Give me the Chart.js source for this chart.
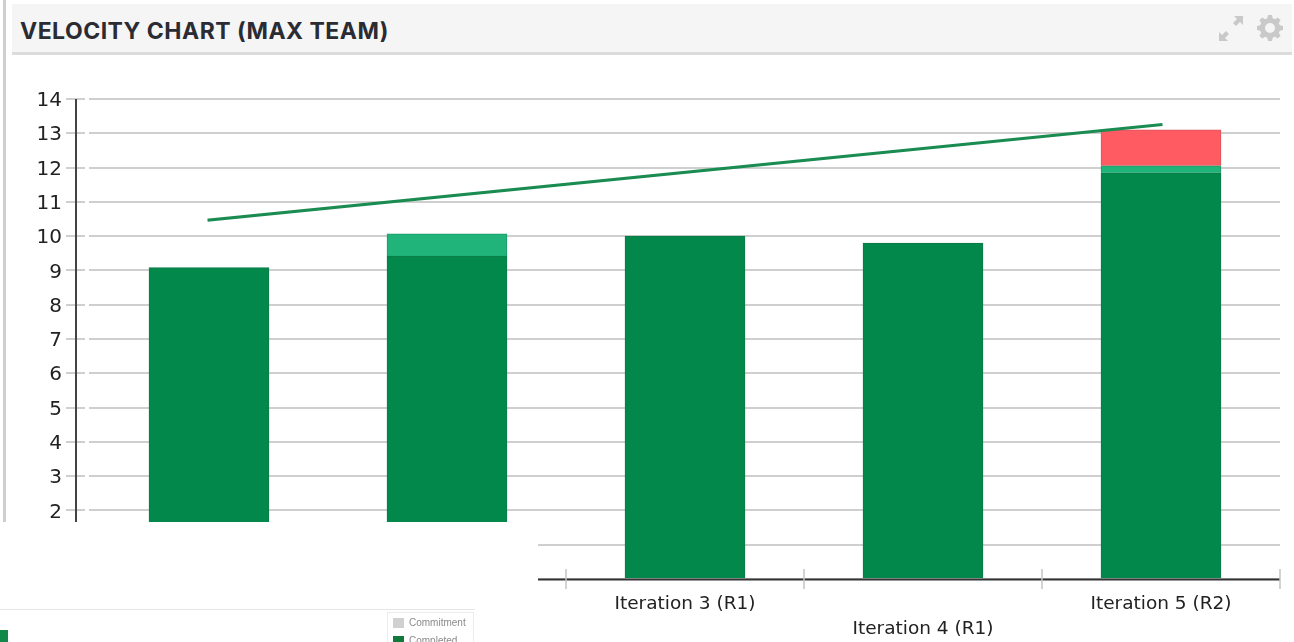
<!DOCTYPE html>
<html><head><meta charset="utf-8"><title>Velocity Chart</title>
<script src="https://cdn.jsdelivr.net/npm/chart.js@4"></script>
<style>
html,body{margin:0;padding:0;background:#fff;overflow:hidden}
#wrap{position:relative;width:1294px;height:642px}
canvas{position:absolute;left:0;top:0}
.abs{position:absolute}
#leftbar{left:3px;top:0;width:3px;height:522px;background:#cfcfcf}
#head{left:12px;top:4px;width:1280px;height:48px;background:#f5f5f5;border-bottom:3px solid #dcdcdc}
#title{left:8px;top:13px;font:700 23px Inter,sans-serif;letter-spacing:.48px;color:#2b2b33;white-space:nowrap}
#patch{left:0;top:522px;width:538px;height:120px;background:#fff}
#rule{left:0;top:609px;width:475px;height:1px;background:#e6e6e6}
#legbox{left:387px;top:612px;width:87px;height:40px;border:1px solid #ececec;box-sizing:border-box;overflow:hidden;filter:blur(.5px)}
.lg{position:absolute;left:21px;font:10px "Liberation Sans",sans-serif;color:#8a8a8a;white-space:nowrap}
.sw{position:absolute;left:5px;width:11px;height:10px}
#stub{left:0;top:630px;width:8px;height:12px;background:#0f8a48;filter:blur(.5px)}
</style></head><body>
<div id="wrap">
<canvas id="c" width="1294" height="642"></canvas>
<div class="abs" id="leftbar"></div>
<div class="abs" id="head"><div class="abs" id="title">VELOCITY CHART (MAX TEAM)</div>
<svg class="abs" style="left:1205px;top:10px" width="66" height="30" viewBox="0 0 66 30">
<g fill="#c9c9c9"><path d="M17 2h9v9l-3-3-4 4-3-3 4-4z"/><path d="M2 27v-9l3 3 4-4 3 3-4 4 3 3z"/>
<path fill-rule="evenodd" d="M51 1h4l.7 3.2 2.3 1 2.8-1.8 2.8 2.8-1.8 2.8 1 2.3 3.2.7v4l-3.2.7-1 2.3 1.8 2.8-2.8 2.8-2.8-1.8-2.3 1L55 27h-4l-.7-3.2-2.3-1-2.8 1.8-2.8-2.8 1.8-2.8-1-2.3L40 16v-4l3.2-.7 1-2.3-1.8-2.8 2.8-2.8L48 5.2l2.3-1zM53 9a5 5 0 1 0 0 10 5 5 0 0 0 0-10z"/></g></svg>
</div>
<div class="abs" id="patch"></div>
<div class="abs" id="rule"></div>
<div class="abs" id="stub"></div>
<div class="abs" id="legbox">
<div class="sw" style="top:5px;background:#d0d0d0"></div><div class="lg" style="top:4px">Commitment</div>
<div class="sw" style="top:23px;background:#0f7a3c"></div><div class="lg" style="top:22px">Completed</div>
</div>
</div>
<script>
const categories = [["Iteration 1 (R1)"], ["", "Iteration 2 (R1)"], ["Iteration 3 (R1)"], ["", "Iteration 4 (R1)"], ["Iteration 5 (R2)"]];
const completed = [9.08, 9.42, 10.0, 9.8, 11.85];
const extra = [null, 0.65, null, null, 0.2];
const overrun = [null, null, null, null, 1.05];
const trend = [10.47, null, null, null, 13.25];
const yMin = 0, yMax = 14, yStep = 1;

const axisDecor = {
  id: 'axisDecor',
  beforeDatasetsDraw(chart) {
    const {ctx, chartArea: a, scales: {x, y}} = chart;
    ctx.save();
    // gap between the tick stub and the gridline
    ctx.fillStyle = '#fff';
    ctx.fillRect(a.left - 5, a.top - 2, 4, a.bottom - a.top + 2);
    // y axis line, set off to the left of the plot
    ctx.strokeStyle = '#444';
    ctx.lineWidth = 2;
    ctx.beginPath();
    ctx.moveTo(a.left - 14, a.top);
    ctx.lineTo(a.left - 14, a.bottom + 1);
    ctx.stroke();
    // x axis line
    ctx.strokeStyle = '#333';
    ctx.beginPath();
    ctx.moveTo(a.left - 14, a.bottom + 0.5);
    ctx.lineTo(a.right, a.bottom + 0.5);
    ctx.stroke();
    // x ticks at category boundaries, crossing the axis
    ctx.strokeStyle = '#c4c4c4';
    ctx.lineWidth = 1.5;
    const step = (a.right - a.left) / x.ticks.length;
    for (let i = 0; i <= x.ticks.length; i++) {
      const px = a.left + step * i;
      ctx.beginPath();
      ctx.moveTo(px, a.bottom - 10);
      ctx.lineTo(px, a.bottom + 10);
      ctx.stroke();
    }
    ctx.restore();
  }
};

const barBase = {type: 'bar', stack: 's', barThickness: 120, borderWidth: 1, order: 2};
new Chart(document.getElementById('c'), {
  data: {
    labels: categories,
    datasets: [
      {...barBase, label: 'Completed', data: completed, backgroundColor: '#03884c', borderColor: '#0f7a47'},
      {...barBase, label: 'Extra', data: extra, backgroundColor: '#20b37a', borderColor: '#1f9a68'},
      {...barBase, label: 'Overrun', data: overrun, backgroundColor: '#fe5b63', borderColor: '#d9545a'},
      {type: 'line', label: 'Trend', data: trend, spanGaps: true, borderColor: '#1a8c52', borderWidth: 3, borderCapStyle: 'square', pointRadius: 0, tension: 0, order: 1}
    ]
  },
  options: {
    responsive: false, animation: false,
    layout: {padding: {top: 99, right: 14, left: 0, bottom: 0}},
    plugins: {legend: {display: false}, tooltip: {enabled: false}},
    scales: {
      x: {
        stacked: true, offset: true,
        grid: {display: false},
        border: {display: false},
        afterFit(s) { s.height = 63; },
        ticks: {autoSkip: false, maxRotation: 0, minRotation: 0, padding: 5, color: '#222',
          font: {family: '"DejaVu Sans"', size: 18.5, lineHeight: 25 / 18.5}}
      },
      y: {
        stacked: true, min: yMin, max: yMax,
        afterFit(s) { s.width = 90; },
        grid: {color: '#cfcfcf', lineWidth: 2, tickLength: 24, tickColor: '#cfcfcf'},
        border: {display: false},
        ticks: {stepSize: yStep, padding: 4, labelOffset: 2, color: '#222', font: {family: '"DejaVu Sans"', size: 20}}
      }
    }
  },
  plugins: [axisDecor]
});
</script>
</body></html>
